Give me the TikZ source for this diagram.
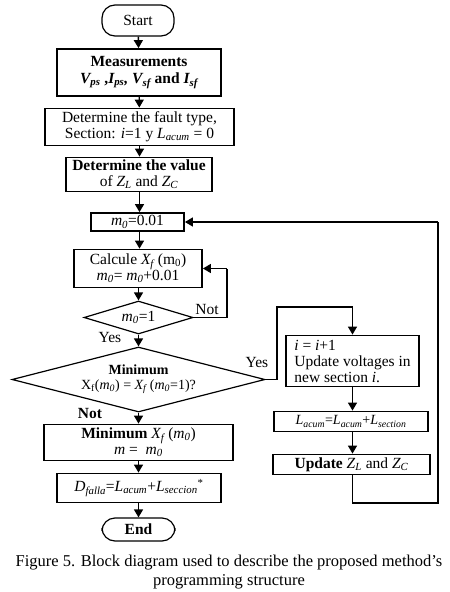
\documentclass[tikz,border=0pt]{standalone}
\usepackage{fontspec}
\setmainfont{Liberation Serif}
\usetikzlibrary{arrows.meta,shapes.geometric}
\newcommand{\sub}[1]{\textsubscript{#1}}
\begin{document}
\begin{tikzpicture}[x=1pt,y=-1pt,
  every node/.style={font=\fontsize{15.5}{18}\selectfont},
  box/.style={draw,line width=1.8pt,inner sep=1pt,align=center},
  term/.style={draw,line width=1.2pt,rounded corners=13pt,inner sep=1pt},
  dec/.style={draw,diamond,line width=1.2pt,inner sep=0pt,align=center},
  arr/.style={line width=1.4pt,-{Triangle[length=8pt,width=9pt]}},
  ln/.style={line width=1.4pt},
  lab/.style={inner sep=0pt}]
\useasboundingbox[fill=white] (0,0) rectangle (450,592);
\node[term,minimum width=72pt,minimum height=31pt] (start) at (138,20.5) {Start};
\node[box,minimum width=164pt,minimum height=47pt] (meas) at (139,72.5) {\textbf{Measurements}\\[-1pt]\textbf{\textit{V\sub{ps}} ,\textit{I\sub{ps},} \textit{V\sub{sf}} and \textit{I\sub{sf}}}};
\node[box,minimum width=189pt,minimum height=37pt] (fault) at (139.5,127) {Determine the fault type,\\[-2pt]Section: \textit{i}=1 y \textit{L\sub{acum}} = 0};
\node[box,minimum width=146pt,minimum height=34pt] (value) at (139,174.5) {\textbf{Determine the value}\\[-2pt]of \textit{Z\sub{L}} and \textit{Z\sub{C}}};
\node[box,minimum width=93pt,minimum height=18pt,inner sep=0pt] (m0) at (137.5,222) {\textit{m\sub{0}}=0.01};
\node[box,minimum width=128pt,minimum height=38pt] (calc) at (138,268.5) {Calcule \textit{X\sub{f}} (m\sub{0})\\[-2pt]\textit{m\sub{0}}= \textit{m\sub{0}}+0.01};
\node[dec,shape aspect=3.3,minimum width=109pt,minimum height=33pt] (d1) at (138.5,317.5) {\textit{m\sub{0}}=1};
\node[dec,shape aspect=3.9,minimum width=253pt,minimum height=65pt,font=\fontsize{14}{16}\selectfont] (d2) at (138.5,379.5) {\textbf{Minimum}\\[-1pt]X\sub{f}(\textit{m\sub{0}}) = \textit{X\sub{f}} (\textit{m\sub{0}}=1)?};
\node[box,minimum width=189pt,minimum height=36pt] (minb) at (138.5,442.5) {\textbf{Minimum} \textit{X\sub{f}} (\textit{m\sub{0}})\\[-2pt]\textit{m} = \ \textit{m\sub{0}}};
\node[box,minimum width=164pt,minimum height=29pt] (dfalla) at (139,488) {\textit{D\sub{falla}}=\textit{L\sub{acum}}+\textit{L\sub{seccion}}\textsuperscript{*}};
\node[term,minimum width=73pt,minimum height=23pt] (end) at (138.5,529.5) {\textbf{End}};
\node[box,minimum width=133pt,minimum height=51pt,align=left,inner sep=4pt] (ibox) at (352.5,361) {\textit{i} = \textit{i}+1\\[-2pt]Update voltages in\\[-2pt]new section \textit{i}.};
\node[box,minimum width=154pt,minimum height=20pt,inner sep=0pt,font=\fontsize{14}{16}\selectfont] (lacum) at (351,421.5) {\textit{L\sub{acum}}=\textit{L\sub{acum}}+\textit{L\sub{section}}};
\node[box,minimum width=157pt,minimum height=20pt,inner sep=0pt] (upd) at (351.5,464.5) {\textbf{Update} \textit{Z\sub{L}} and \textit{Z\sub{C}}};
\coordinate (c1) at (227,317.5);
\coordinate (c2) at (227,268.5);
\coordinate (c3) at (277,379.5);
\coordinate (c4) at (277,307);
\coordinate (c5) at (352.5,307);
\coordinate (c6) at (352.5,503);
\coordinate (c7) at (438,503);
\coordinate (c8) at (438,222);
\draw[arr] (start) -- (meas);
\draw[arr] (meas) -- (fault);
\draw[arr] (fault) -- (value.north -| fault.south);
\draw[arr] (value.south -| fault.south) -- (m0.north -| fault.south);
\draw[arr] (m0.south -| fault.south) -- (calc.north -| fault.south);
\draw[arr] (calc.south -| d1.north) -- (d1.north);
\draw[arr] (d1.south) -- (d2.north);
\draw[arr] (d2.south) -- (minb.north);
\draw[arr] (minb.south) -- (dfalla.north -| minb.south);
\draw[arr] (dfalla.south -| minb.south) -- (end.north -| minb.south);
\draw[ln] (d1.east) -- (c1) -- (c2);
\draw[arr] (c2) -- (calc.east);
\draw[ln] (d2.east) -- (c3) -- (c4) -- (c5);
\draw[arr] (c5) -- (ibox.north -| c5);
\draw[arr] (ibox.south -| c5) -- (lacum.north -| c5);
\draw[arr] (lacum.south -| c5) -- (upd.north -| c5);
\draw[ln] (upd.south -| c5) -- (c6) -- (c7) -- (c8);
\draw[arr] (c8) -- (m0.east);
\node[lab] (lnot1) at (207,309) {Not};
\node[lab] (lyes1) at (110,337) {Yes};
\node[lab] (lyes2) at (257,362) {Yes};
\node[lab] (lnot2) at (90,413) {\textbf{Not}};
\node[lab,align=center,font=\fontsize{16.5}{19}\selectfont] (cap) at (229,572.5) {Figure 5. Block diagram used to describe the proposed method's\\programming structure};
\end{tikzpicture}
\end{document}
